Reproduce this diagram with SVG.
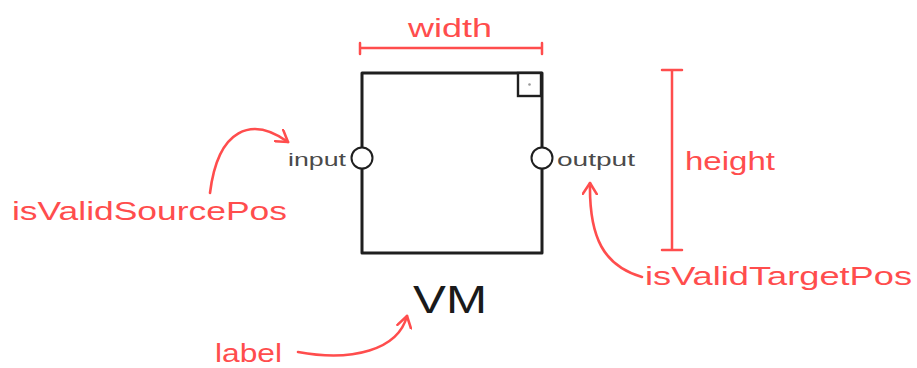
<svg xmlns="http://www.w3.org/2000/svg" width="917" height="368" viewBox="0 0 917 368">
  <style>
    .red { fill: #ff4d4d; font-family: "Liberation Sans", Arial, sans-serif; font-size: 26px; }
    .port-label { fill: #4a4a4a; font-family: "Liberation Sans", Arial, sans-serif; font-size: 19px; }
    .vm { fill: #1a1a1a; font-family: "Liberation Sans", Arial, sans-serif; font-size: 39px; }
    .box { fill: #fff; stroke: #1f1f1f; stroke-width: 3; stroke-linejoin: round; }
    .port { fill: #fff; stroke: #1f1f1f; stroke-width: 2; }
    .measure { fill: none; stroke: #ff4d4d; stroke-width: 2.5; stroke-linecap: round; }
    .arrow { fill: none; stroke: #ff4d4d; stroke-width: 2.6; stroke-linecap: round; marker-end: url(#chev); }
  </style>
  <defs>
    <marker id="chev" viewBox="-12 -8 14 16" markerWidth="14" markerHeight="16" refX="0" refY="0" orient="auto" markerUnits="userSpaceOnUse">
      <path d="M-11,-7 L0,0 L-11,7" fill="none" stroke="#ff4d4d" stroke-width="2.6" stroke-linecap="round" stroke-linejoin="round"/>
    </marker>
  </defs>
  <rect width="917" height="368" fill="#fff"/>

  <g id="vm-node">
    <path class="box" d="M362,73 L542,73 L542,253 L362,253 Z"/>
    <rect x="518" y="73" width="23" height="23" fill="#fff" stroke="#1f1f1f" stroke-width="2.4"/>
    <circle cx="529.5" cy="84.5" r="1.3" fill="#999"/>
    <text class="vm" x="413" y="313" textLength="74" lengthAdjust="spacingAndGlyphs">VM</text>
  </g>

  <g id="port-input">
    <circle class="port" cx="362" cy="158" r="10.5"/>
    <text class="port-label" x="288" y="166" textLength="58" lengthAdjust="spacingAndGlyphs">input</text>
  </g>

  <g id="port-output">
    <circle class="port" cx="542" cy="158" r="10.5"/>
    <text class="port-label" x="557" y="166" textLength="78" lengthAdjust="spacingAndGlyphs">output</text>
  </g>

  <g id="width-measure">
    <path class="measure" d="M360,48 L542,48 M360,43 L360,54 M542,43 L542,54"/>
    <text class="red" x="408" y="37" font-size="24" textLength="84" lengthAdjust="spacingAndGlyphs">width</text>
  </g>

  <g id="height-measure">
    <path class="measure" d="M672,70 L672,250 M662,70 L682,70 M662,250 L682,250"/>
    <text class="red" x="685" y="170" textLength="90" lengthAdjust="spacingAndGlyphs">height</text>
  </g>

  <g id="note-source">
    <text class="red" x="12" y="220" textLength="275" lengthAdjust="spacingAndGlyphs">isValidSourcePos</text>
  </g>

  <g id="note-target">
    <text class="red" x="645" y="285" textLength="267" lengthAdjust="spacingAndGlyphs">isValidTargetPos</text>
  </g>

  <g id="note-label">
    <text class="red" x="215" y="362" textLength="67" lengthAdjust="spacingAndGlyphs">label</text>
  </g>

  <g id="connectors">
    <path class="arrow" d="M210,193 C218,128 252,116 288,142"/>
    <path class="arrow" d="M642,277 C604,266 589,238 590,183"/>
    <path class="arrow" d="M298,352 C352,362 398,350 407,316"/>
  </g>
</svg>
